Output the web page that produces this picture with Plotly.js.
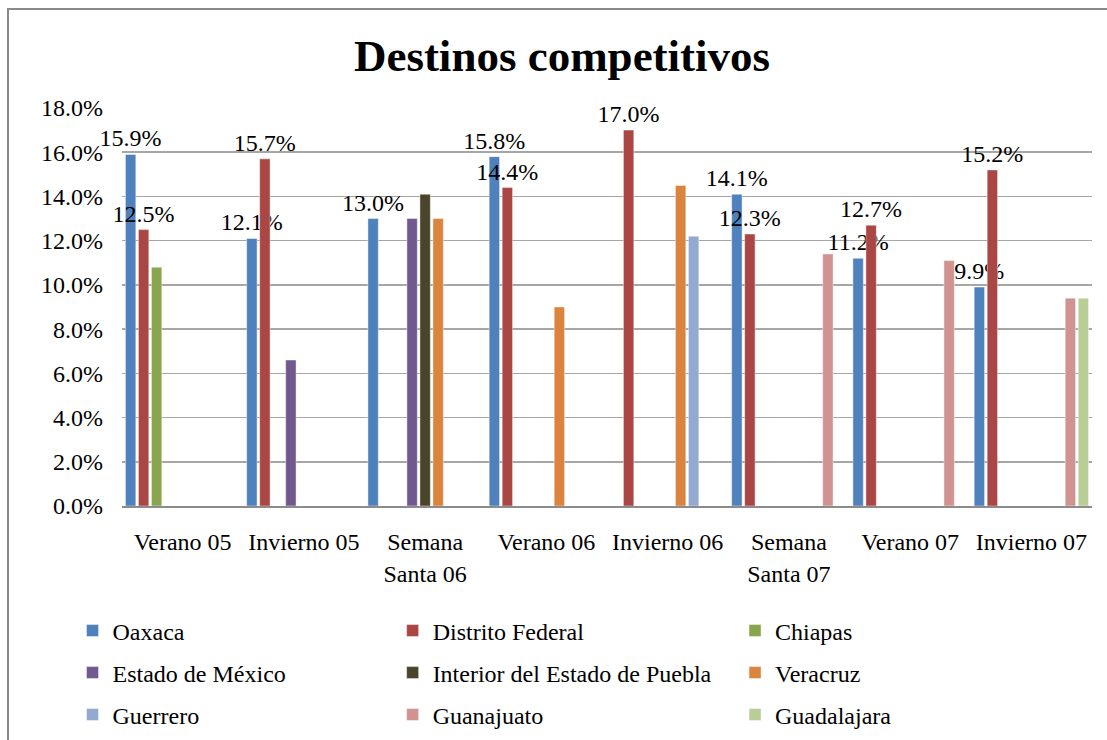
<!DOCTYPE html>
<html>
<head>
<meta charset="utf-8">
<script src="https://cdn.plot.ly/plotly-3.0.1.min.js"></script>
<style>
  html, body { margin: 0; padding: 0; background: #ffffff; }
  #wrap { position: relative; width: 1107px; height: 740px; }
  #chart { width: 1107px; height: 740px; }
  #frame { position: absolute; left: 7px; top: 8px; width: 1110px; height: 740px;
           border-top: 2px solid #8a8a8a; border-left: 2px solid #8a8a8a; pointer-events: none; }
</style>
</head>
<body>
<div id="wrap">
  <div id="chart"></div>
  <div id="frame"></div>
</div>
<script>
// ---- data (percent values) ----
const categories = ['Verano 05', 'Invierno 05', 'Semana Santa 06', 'Verano 06',
                    'Invierno 06', 'Semana Santa 07', 'Verano 07', 'Invierno 07'];
const tickLabels = ['Verano 05', 'Invierno 05', 'Semana<br>Santa 06', 'Verano 06',
                    'Invierno 06', 'Semana<br>Santa 07', 'Verano 07', 'Invierno 07'];

const seriesNames = ['Oaxaca', 'Distrito Federal', 'Chiapas', 'Estado de México',
                     'Interior del Estado de Puebla', 'Veracruz', 'Guerrero',
                     'Guanajuato', 'Guadalajara'];

const oaxaca          = [15.9, 12.1, 13.0, 15.8, null, 14.1, 11.2, 9.9];
const distritoFederal = [12.5, 15.7, null, 14.4, 17.0, 12.3, 12.7, 15.2];
const chiapas         = [10.8, null, null, null, null, null, null, null];
const estadoMexico    = [null, 6.6, 13.0, null, null, null, null, null];
const interiorPuebla  = [null, null, 14.1, null, null, null, null, null];
const veracruz        = [null, null, 13.0, 9.0, 14.5, null, null, null];
const guerrero        = [null, null, null, null, 12.2, null, null, null];
const guanajuato      = [null, null, null, null, null, 11.4, 11.1, 9.4];
const guadalajara     = [null, null, null, null, null, null, null, 9.4];

const seriesValues = [oaxaca, distritoFederal, chiapas, estadoMexico, interiorPuebla,
                      veracruz, guerrero, guanajuato, guadalajara];
const labelled = [true, true, false, false, false, false, false, false, false];

// ---- styles ----
const colors = ['#4F81BD', '#AA4643', '#89A54E', '#71588F', '#4A452A',
                '#DB843D', '#93A9CF', '#D19392', '#B9CD96'];
const FONT = "'Liberation Serif', 'Times New Roman', serif";
const FS = 24;

// legend placement (each entry in its own legend, 3 x 3 grid)
const legendCols = [-0.051, 0.279, 0.632];
const legendRows = [-0.314, -0.4196, -0.525];

const traces = seriesNames.map((name, i) => {
  const t = {
    type: 'bar',
    name: name,
    x: categories,
    y: seriesValues[i],
    marker: { color: colors[i], line: { color: 'rgba(255,255,255,0.55)', width: 0.8 } },
    legend: i === 0 ? 'legend' : 'legend' + (i + 1),
    hoverinfo: 'x+y+name'
  };
  if (labelled[i]) {
    t.texttemplate = '%{y:.1f}%';
    t.textposition = 'outside';
    t.textfont = { family: FONT, size: FS, color: '#000000' };
    t.constraintext = 'none';
    t.cliponaxis = false;
  }
  return t;
});

const layout = {
  width: 1107,
  height: 740,
  paper_bgcolor: '#ffffff',
  plot_bgcolor: '#ffffff',
  margin: { l: 122, r: 15, t: 108, b: 234, autoexpand: false },
  font: { family: FONT, size: FS, color: '#000000' },
  title: {
    text: '<b>Destinos competitivos</b>',
    font: { family: FONT, size: 45, color: '#000000' },
    xref: 'container', x: 0.5077, xanchor: 'center',
    yref: 'container', y: 0.925, yanchor: 'middle'
  },
  barmode: 'group',
  bargap: 0.035,
  bargroupgap: 0.2,
  xaxis: {
    type: 'category',
    categoryorder: 'array',
    categoryarray: categories,
    tickvals: categories,
    ticktext: tickLabels,
    ticks: '',
    showgrid: false,
    showline: true,
    linecolor: '#8c8c8c',
    linewidth: 1.5,
    tickfont: { family: FONT, size: FS, color: '#000000' },
    ticklabelstandoff: 14,
    fixedrange: true
  },
  yaxis: {
    range: [0, 18],
    tick0: 0,
    dtick: 2,
    tickformat: '.1f',
    ticksuffix: '%',
    ticks: '',
    showgrid: true,
    gridcolor: '#a6a6a6',
    gridwidth: 1.5,
    zeroline: false,
    showline: false,
    tickfont: { family: FONT, size: FS, color: '#000000' },
    ticklabelstandoff: 18,
    fixedrange: true
  },
  showlegend: true
};

seriesNames.forEach((n, i) => {
  const key = i === 0 ? 'legend' : 'legend' + (i + 1);
  layout[key] = {
    orientation: 'h',
    x: legendCols[i % 3],
    xanchor: 'left',
    y: legendRows[Math.floor(i / 3)],
    yanchor: 'middle',
    bgcolor: 'rgba(0,0,0,0)',
    borderwidth: 0,
    font: { family: FONT, size: FS, color: '#000000' },
    itemclick: false,
    itemdoubleclick: false
  };
});

Plotly.newPlot('chart', traces, layout, { displayModeBar: false, staticPlot: true });
</script>
</body>
</html>
